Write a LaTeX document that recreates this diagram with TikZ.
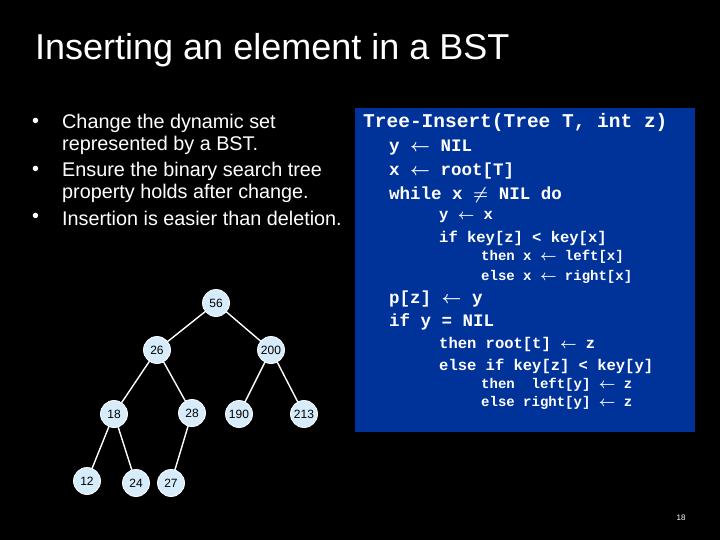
\documentclass[tikz,border=0pt]{standalone}
\usepackage{fontspec}
\setmainfont{Liberation Sans}
\newfontfamily\codefont{Liberation Mono}
\usepackage{amsmath,bm}
\definecolor{boxblue}{RGB}{0,51,153}
\definecolor{nodefill}{RGB}{214,236,250}
\tikzset{
  tn/.style={circle,fill=nodefill,draw=white,line width=0.8pt,minimum size=27pt,inner sep=0pt,font=\fontsize{12}{13}\selectfont},
  edge/.style={white,line width=1.4pt},
  code/.style={anchor=west,inner sep=0pt,text=white},
  bul/.style={anchor=west,inner sep=0pt,text=white,font=\fontsize{19.8}{22}\selectfont}
}
\newcommand{\la}{$\bm{\leftarrow}$}
\begin{document}
\begin{tikzpicture}[x=1pt,y=-1pt]
\fill[black] (0,0) rectangle (720,540);
\useasboundingbox (0,0) rectangle (720,540);
\node[anchor=west,inner sep=0pt,text=white,font=\fontsize{36}{40}\selectfont] (title) at (35,50) {Inserting an element in a BST};
\node[bul] (b1) at (32,123) {•};
\node[bul] (t1) at (62,123) {Change the dynamic set};
\node[bul] (t1b) at (62,145) {represented by a BST.};
\node[bul] (b2) at (32,171) {•};
\node[bul] (t2) at (62,171) {Ensure the binary search tree};
\node[bul] (t2b) at (62,193) {property holds after change.};
\node[bul] (b3) at (32,218) {•};
\node[bul] (t3) at (62,218) {Insertion is easier than deletion.};
\fill[boxblue] (355,108) rectangle (695,432);
\node[code,font=\codefont\bfseries\fontsize{19.5}{20}\selectfont] (c1) at (363,122) {Tree-Insert(Tree T, int z)};
\node[code,font=\codefont\bfseries\fontsize{17.5}{18}\selectfont] (c2) at (389,148) {y \la{} NIL};
\node[code,font=\codefont\bfseries\fontsize{17.5}{18}\selectfont] (c3) at (389,171) {x \la{} root[T]};
\node[code,font=\codefont\bfseries\fontsize{17.5}{18}\selectfont] (c4) at (389,195) {while x $\bm{\neq}$ NIL do};
\node[code,font=\codefont\bfseries\fontsize{15.5}{16}\selectfont] (c5) at (439,217) {y \la{} x};
\node[code,font=\codefont\bfseries\fontsize{15.5}{16}\selectfont] (c6) at (439,238) {if key[z] < key[x]};
\node[code,font=\codefont\bfseries\fontsize{14}{15}\selectfont] (c7) at (481,257) {then x \la{} left[x]};
\node[code,font=\codefont\bfseries\fontsize{14}{15}\selectfont] (c8) at (481,277) {else x \la{} right[x]};
\node[code,font=\codefont\bfseries\fontsize{17.5}{18}\selectfont] (c9) at (389,299) {p[z] \la{} y};
\node[code,font=\codefont\bfseries\fontsize{17.5}{18}\selectfont] (c10) at (389,322) {if y = NIL};
\node[code,font=\codefont\bfseries\fontsize{15.5}{16}\selectfont] (c11) at (439,344) {then root[t] \la{} z};
\node[code,font=\codefont\bfseries\fontsize{15.5}{16}\selectfont] (c12) at (439,366) {else if key[z] < key[y]};
\node[code,font=\codefont\bfseries\fontsize{14}{15}\selectfont] (c13) at (481,385) {then\ \ left[y] \la{} z};
\node[code,font=\codefont\bfseries\fontsize{14}{15}\selectfont] (c14) at (481,403) {else right[y] \la{} z};
\coordinate (p56) at (216,303);
\coordinate (p26) at (157,350);
\coordinate (p200) at (271,350);
\coordinate (p18) at (114,414);
\coordinate (p28) at (192,413);
\coordinate (p190) at (239,414);
\coordinate (p213) at (304,414);
\coordinate (p12) at (87,481);
\coordinate (p24) at (136,483);
\coordinate (p27) at (171,483);
\draw[edge] (p56)--(p26) (p56)--(p200) (p26)--(p18) (p26)--(p28) (p200)--(p190) (p200)--(p213) (p18)--(p12) (p18)--(p24) (p28)--(p27);
\node[tn] (n56) at (p56) {56};
\node[tn] (n26) at (p26) {26};
\node[tn] (n200) at (p200) {200};
\node[tn] (n18) at (p18) {18};
\node[tn] (n28) at (p28) {28};
\node[tn] (n190) at (p190) {190};
\node[tn] (n213) at (p213) {213};
\node[tn] (n12) at (p12) {12};
\node[tn] (n24) at (p24) {24};
\node[tn] (n27) at (p27) {27};
\node[text=white,font=\fontsize{8}{9}\selectfont] (pg) at (681,518) {18};
\end{tikzpicture}
\end{document}
